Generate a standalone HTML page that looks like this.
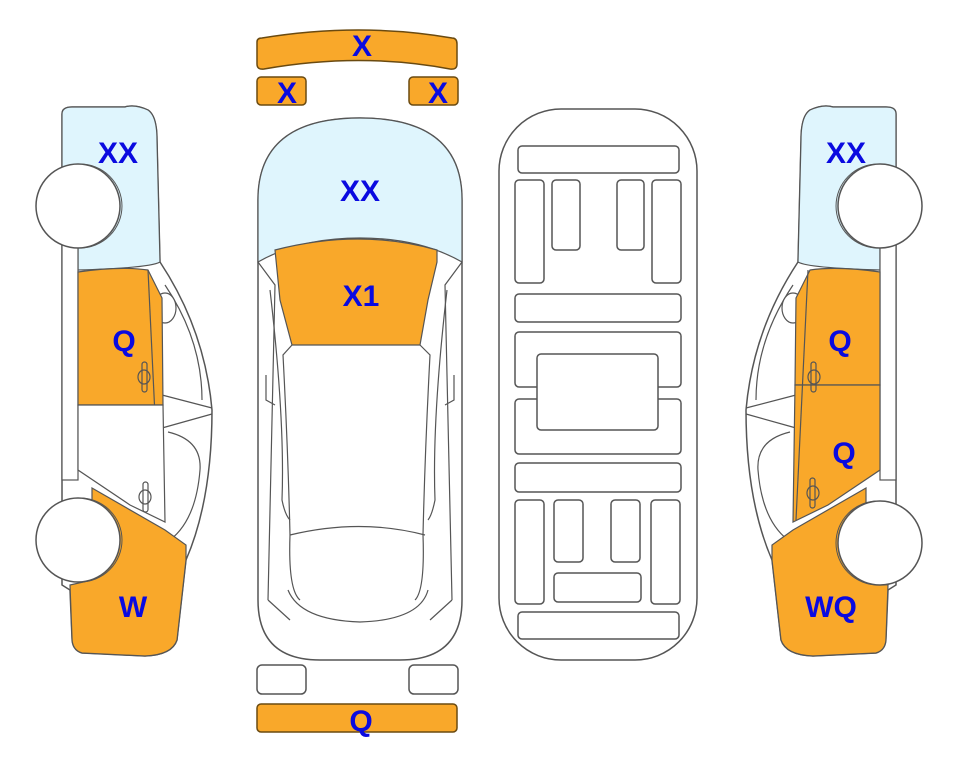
<!DOCTYPE html>
<html><head><meta charset="utf-8"><style>
html,body{margin:0;padding:0;background:#fff;}
svg{display:block;}
text{font-family:"Liberation Sans",Arial,sans-serif;font-weight:bold;fill:#0a0ae0;font-size:30px;text-anchor:middle;}
</style></head><body>
<svg width="963" height="768" viewBox="0 0 963 768" xmlns="http://www.w3.org/2000/svg">
<defs>
<g id="side">
  <path d="M62,114 Q62,107 72,107 L125,107 Q135,104 148,110 Q157,116 157,140 L160,262 Q205,330 212,410 Q212,500 186,560 L177,640 Q172,655 145,656 L82,653 Q72,650 72,638 L70,590 L62,585 Z" fill="#fff" stroke="#555" stroke-width="1.5"/>
  <path d="M62,114 Q62,107 72,107 L125,107 Q135,104 148,110 Q157,116 157,140 L160,262 Q150,268 78,270 L78,245 L62,245 Z" fill="#dff5fd" stroke="#555" stroke-width="1.2"/>
  <rect x="62" y="240" width="16" height="240" fill="#fff" stroke="#555" stroke-width="1.2"/>
  <path d="M165,285 Q202,340 202,400 M162,395 L212,408 M162,428 L212,414 M168,432 Q202,440 200,470 Q196,520 170,540" fill="none" stroke="#555" stroke-width="1.2"/>
  <ellipse cx="165" cy="308" rx="11" ry="15" fill="#fff" stroke="#555" stroke-width="1.2"/>
</g>
</defs>

<!-- LEFT CAR -->
<use href="#side"/>
<path d="M78,272 Q120,266 148,270 L162,298 L163,405 L78,405 Z" fill="#f9a82a" stroke="#555" stroke-width="1.2"/>
<path d="M148,270 L160,520" fill="none" stroke="#555" stroke-width="1.2"/>
<path d="M78,405 L163,405 L165,522 L130,505 L78,470 Z" fill="#fff" stroke="#555" stroke-width="1.2"/>
<path d="M92,488 L165,530 L186,545 L186,560 L177,640 Q172,655 145,656 L82,653 Q72,650 72,638 L70,585 L92,580 Z" fill="#f9a82a" stroke="#555" stroke-width="1.2"/>
<g fill="none" stroke="#555" stroke-width="1.2">
<rect x="142" y="362" width="5" height="30" rx="2.5"/><ellipse cx="144" cy="377" rx="6" ry="7"/>
<rect x="143" y="482" width="5" height="30" rx="2.5"/><ellipse cx="145" cy="497" rx="6" ry="7"/>
</g>
<circle cx="78" cy="206" r="42" fill="#fff" stroke="#555" stroke-width="1.5"/>
<path d="M80,164 A42,42 0 0 1 80,248" fill="none" stroke="#555" stroke-width="1"/>
<circle cx="78" cy="540" r="42" fill="#fff" stroke="#555" stroke-width="1.5"/>
<path d="M80,498 A42,42 0 0 1 80,582" fill="none" stroke="#555" stroke-width="1"/>

<!-- RIGHT CAR (mirror) -->
<g transform="translate(958,0) scale(-1,1)">
<use href="#side"/>
<path d="M78,272 Q120,266 148,270 L162,298 L163,385 L78,385 Z" fill="#f9a82a" stroke="#555" stroke-width="1.2"/>
<path d="M78,385 L163,385 L165,522 L130,505 L78,470 Z" fill="#f9a82a" stroke="#555" stroke-width="1.2"/>
<path d="M150,270 L162,520" fill="none" stroke="#555" stroke-width="1.2"/>
<path d="M92,488 L165,530 L186,545 L186,560 L177,640 Q172,655 145,656 L82,653 Q72,650 72,638 L70,585 L92,580 Z" fill="#f9a82a" stroke="#555" stroke-width="1.2"/>
<g fill="none" stroke="#555" stroke-width="1.2">
<rect x="142" y="362" width="5" height="30" rx="2.5"/><ellipse cx="144" cy="377" rx="6" ry="7"/>
<rect x="143" y="478" width="5" height="30" rx="2.5"/><ellipse cx="145" cy="493" rx="6" ry="7"/>
</g>
<circle cx="78" cy="206" r="42" fill="#fff" stroke="#555" stroke-width="1.5"/>
<path d="M80,164 A42,42 0 0 1 80,248" fill="none" stroke="#555" stroke-width="1"/>
<circle cx="78" cy="543" r="42" fill="#fff" stroke="#555" stroke-width="1.5"/>
<path d="M80,501 A42,42 0 0 1 80,585" fill="none" stroke="#555" stroke-width="1"/>
</g>

<!-- TOP VIEW -->
<path d="M257,42 Q257,38 262,38 Q360,22 452,38 Q457,38 457,44 L457,64 Q457,70 450,69 Q360,52 264,69 Q257,70 257,64 Z" fill="#f9a82a" stroke="#6a4a10" stroke-width="1.5"/>
<rect x="257" y="77" width="49" height="28" rx="4" fill="#f9a82a" stroke="#6a4a10" stroke-width="1.5"/>
<rect x="409" y="77" width="49" height="28" rx="4" fill="#f9a82a" stroke="#6a4a10" stroke-width="1.5"/>
<path d="M258,200 Q258,118 360,118 Q462,118 462,200 L462,600 Q462,660 400,660 L320,660 Q258,660 258,600 Z" fill="#fff" stroke="#555" stroke-width="1.5"/>
<path d="M258,262 L258,200 Q258,118 360,118 Q462,118 462,200 L462,262 Q420,238 360,238 Q300,238 258,262 Z" fill="#dff5fd" stroke="#555" stroke-width="1.2"/>
<path d="M275,250 Q360,228 437,250 L437,262 L428,300 L420,345 L292,345 L280,300 Z" fill="#f9a82a" stroke="#555" stroke-width="1.2"/>
<g fill="none" stroke="#555" stroke-width="1.2">
<path d="M258,262 L275,285 L268,600 M462,262 L445,285 L452,600"/>
<path d="M292,345 L283,355 Q288,450 290,535 Q288,590 300,600 M420,345 L430,355 Q425,450 423,535 Q425,590 415,600"/>
<path d="M290,535 Q360,518 425,535"/>
<path d="M288,590 Q300,620 360,622 Q420,620 428,590"/>
<path d="M268,600 L290,620 M452,600 L430,620"/>
<path d="M270,290 Q285,420 282,500 Q285,515 290,520 M447,290 Q432,420 435,500 Q432,515 428,520"/>
<path d="M266,375 L266,400 L275,405 M454,375 L454,400 L445,405"/>
</g>
<rect x="257" y="665" width="49" height="29" rx="5" fill="#fff" stroke="#555" stroke-width="1.5"/>
<rect x="409" y="665" width="49" height="29" rx="5" fill="#fff" stroke="#555" stroke-width="1.5"/>
<rect x="257" y="704" width="200" height="28" rx="4" fill="#f9a82a" stroke="#6a4a10" stroke-width="1.5"/>

<!-- SCHEMATIC -->
<g fill="#fff" stroke="#555" stroke-width="1.5">
<rect x="499" y="109" width="198" height="551" rx="62" ry="62"/>
<rect x="518" y="146" width="161" height="27" rx="4"/>
<rect x="515" y="180" width="29" height="103" rx="4"/>
<rect x="552" y="180" width="28" height="70" rx="4"/>
<rect x="617" y="180" width="27" height="70" rx="4"/>
<rect x="652" y="180" width="29" height="103" rx="4"/>
<rect x="515" y="294" width="166" height="28" rx="4"/>
<rect x="515" y="332" width="166" height="55" rx="4"/>
<rect x="515" y="399" width="166" height="55" rx="4"/>
<rect x="537" y="354" width="121" height="76" rx="4"/>
<rect x="515" y="463" width="166" height="29" rx="4"/>
<rect x="515" y="500" width="29" height="104" rx="4"/>
<rect x="554" y="500" width="29" height="62" rx="4"/>
<rect x="611" y="500" width="29" height="62" rx="4"/>
<rect x="651" y="500" width="29" height="104" rx="4"/>
<rect x="554" y="573" width="87" height="29" rx="4"/>
<rect x="518" y="612" width="161" height="27" rx="4"/>
</g>

<!-- LABELS -->
<text x="362" y="56">X</text>
<text x="287" y="103">X</text>
<text x="438" y="103">X</text>
<text x="360" y="201">XX</text>
<text x="361" y="306">X1</text>
<text x="361" y="731">Q</text>
<text x="118" y="163">XX</text>
<text x="124" y="351">Q</text>
<text x="133" y="617">W</text>
<text x="846" y="163">XX</text>
<text x="840" y="351">Q</text>
<text x="844" y="463">Q</text>
<text x="831" y="617">WQ</text>
</svg>
</body></html>
